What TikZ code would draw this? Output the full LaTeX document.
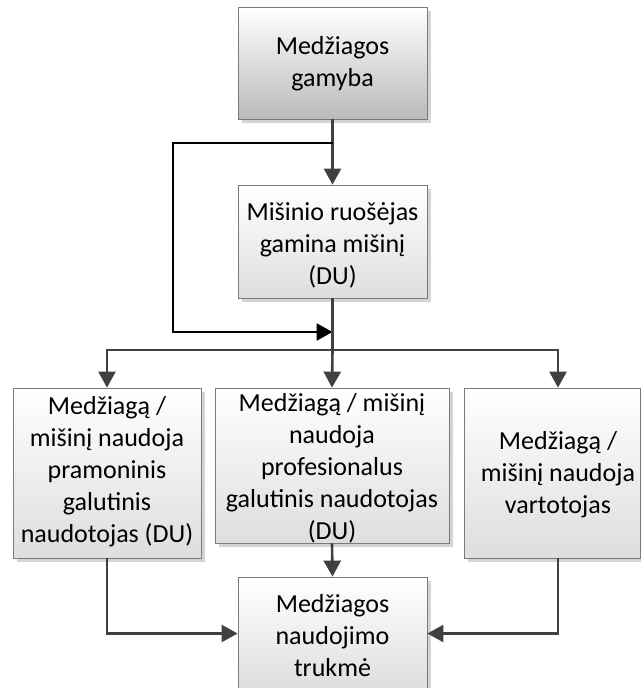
\documentclass[tikz,border=0pt]{standalone}
\usepackage{fontspec}
\setmainfont{Carlito}
\usetikzlibrary{arrows.meta,shadows,calc}
\definecolor{conncol}{HTML}{404040}
\definecolor{boxborder}{HTML}{7A7A7A}
\definecolor{shadowcol}{HTML}{D4D4D4}
\begin{document}
\begin{tikzpicture}[x=1pt,y=-1pt,
  box/.style={draw=boxborder, line width=0.8pt, inner sep=0pt,
    top color=white, bottom color=black!13,
    drop shadow={shadow xshift=4pt, shadow yshift=-4pt, fill=shadowcol, opacity=1}},
  topbox/.style={box, bottom color=black!27},
  txt/.style={font=\fontsize{26}{32}\selectfont, align=center, inner sep=0pt},
  conn/.style={draw=conncol, line width=2.6pt, -{Triangle[length=16pt,width=17pt]}},
  plain/.style={draw=conncol, line width=2.6pt},
  loopline/.style={draw=black, line width=2.6pt, -{Triangle[length=16pt,width=17pt]}}
]
\useasboundingbox (0,0) rectangle (641,688);
\clip (0,0) rectangle (641,688);

% boxes
\node[topbox, minimum width=189pt, minimum height=112pt] (a) at (332.5,63) {};
\node[box, minimum width=189pt, minimum height=113pt] (b) at (332.5,241.5) {};
\node[box, minimum width=188pt, minimum height=170pt] (l) at (107,473) {};
\node[box, minimum width=234pt, minimum height=155pt] (c) at (332,465.5) {};
\node[box, minimum width=176pt, minimum height=170pt] (r) at (552,473) {};
\node[box, minimum width=189pt, minimum height=113pt] (e) at (332.5,633.5) {};

% texts
\node[txt] (ta) at (332.5,64) {Medžiagos\\gamyba};
\node[txt] (tb) at (332.5,245) {Mišinio ruošėjas\\gamina mišinį\\(DU)};
\node[txt] (tl) at (107,472) {Medžiagą /\\mišinį naudoja\\pramoninis\\galutinis\\naudotojas (DU)};
\node[txt] (tc) at (332,468) {Medžiagą / mišinį\\naudoja\\profesionalus\\galutinis naudotojas\\(DU)};
\node[txt] (tr) at (558,475) {Medžiagą /\\mišinį naudoja\\vartotojas};
\node[txt] (te) at (332.5,636) {Medžiagos\\naudojimo\\trukmė};

% junction coordinates
\coordinate (j1) at (332.5,143);
\coordinate (l1) at (173,143);
\coordinate (l2) at (173,332);
\coordinate (j2) at (332.5,332);
\coordinate (j3) at (332.5,350);

% connectors
\draw[conn] (a.south) -- (b.north);
\draw[loopline] (j1) -- (l1) -- (l2) -- (j2);
\draw[plain] (b.south) -- (j3);
\draw[conn] (j3) -- (c.north);
\draw[conn] (j3) -| (l.north);
\draw[conn] (j3) -| (tr |- r.north);
\draw[conn] (c.south) -- (e.north);
\draw[conn] (l.south) |- (e.west);
\draw[conn] (tr |- r.south) |- (e.east);
\end{tikzpicture}
\end{document}
